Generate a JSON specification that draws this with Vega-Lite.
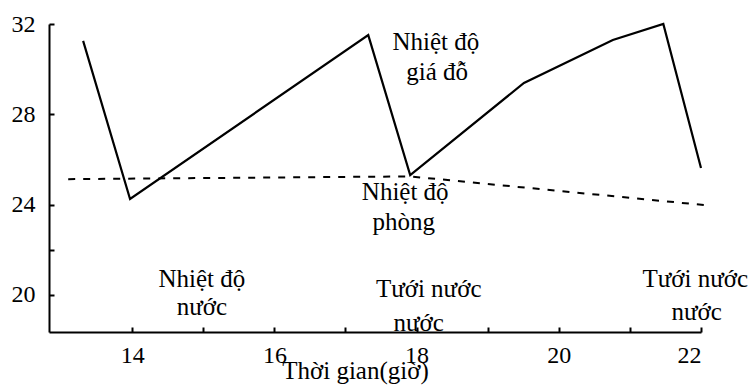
{
  "$schema": "https://vega.github.io/schema/vega-lite/v6.json",
  "width": 652,
  "height": 308,
  "autosize": {"type": "none"},
  "padding": {"left": 49, "top": 24, "right": 53, "bottom": 54},
  "background": "white",
  "config": {
    "view": {"stroke": null},
    "font": "Liberation Serif",
    "axis": {"grid": false, "domainColor": "black", "tickColor": "black", "labelColor": "black", "titleColor": "black", "labelFont": "Liberation Serif", "titleFont": "Liberation Serif", "titleFontWeight": "normal"}
  },
  "datasets": {
    "gia_do": [
      {"gio": 13.31, "nhiet": 31.25},
      {"gio": 13.97, "nhiet": 24.25},
      {"gio": 17.32, "nhiet": 31.51},
      {"gio": 17.91, "nhiet": 25.31},
      {"gio": 19.51, "nhiet": 29.39},
      {"gio": 20.76, "nhiet": 31.29},
      {"gio": 21.47, "nhiet": 32.0},
      {"gio": 22.0, "nhiet": 25.62}
    ],
    "phong": [
      {"gio": 13.1, "nhiet": 25.13},
      {"gio": 17.91, "nhiet": 25.25},
      {"gio": 22.05, "nhiet": 23.98}
    ],
    "nhan": [
      {"gio": 18.27, "nhiet": 30.85, "chu": "Nhiệt độ"},
      {"gio": 18.29, "nhiet": 29.52, "chu": "giá  đỗ"},
      {"gio": 17.84, "nhiet": 24.21, "chu": "Nhiệt độ"},
      {"gio": 17.82, "nhiet": 22.88, "chu": "phòng"},
      {"gio": 14.98, "nhiet": 20.35, "chu": "Nhiệt độ"},
      {"gio": 14.98, "nhiet": 19.11, "chu": "nước"},
      {"gio": 18.17, "nhiet": 19.91, "chu": "Tưới nước"},
      {"gio": 18.03, "nhiet": 18.4, "chu": "nước"},
      {"gio": 21.92, "nhiet": 20.35, "chu": "Tưới nước"},
      {"gio": 21.94, "nhiet": 18.89, "chu": "nước"}
    ]
  },
  "encoding": {
    "x": {
      "field": "gio", "type": "quantitative",
      "scale": {"domain": [12.83, 22], "nice": false, "zero": false},
      "axis": {
        "values": [14, 15, 16, 17, 18, 19, 20, 21, 22],
        "labelExpr": "datum.value % 2 === 0 ? datum.label : ''",
        "tickSize": -5, "tickWidth": 2, "domainWidth": 2,
        "labelFontSize": 24, "labelPadding": 16,
        "title": "Thời gian(giờ)", "titleFontSize": 25,
        "titleX": 306, "titleY": 46, "titleAlign": "center", "titleBaseline": "alphabetic"
      }
    },
    "y": {
      "field": "nhiet", "type": "quantitative",
      "scale": {"domain": [18.36, 32], "nice": false, "zero": false},
      "axis": {
        "values": [20, 22, 24, 28, 32],
        "labelExpr": "datum.value === 22 ? '' : datum.label",
        "tickSize": -5, "tickWidth": 2, "domainWidth": 2,
        "labelFontSize": 24, "labelPadding": 19,
        "title": null
      }
    }
  },
  "layer": [
    {
      "data": {"name": "phong"},
      "mark": {"type": "line", "color": "black", "strokeWidth": 2, "strokeDash": [7, 8], "clip": false}
    },
    {
      "data": {"name": "gia_do"},
      "mark": {"type": "line", "color": "black", "strokeWidth": 2.2, "clip": false}
    },
    {
      "data": {"name": "nhan"},
      "mark": {"type": "text", "font": "Liberation Serif", "fontSize": 25, "align": "center", "baseline": "alphabetic", "color": "black"},
      "encoding": {"text": {"field": "chu", "type": "nominal"}}
    }
  ]
}
